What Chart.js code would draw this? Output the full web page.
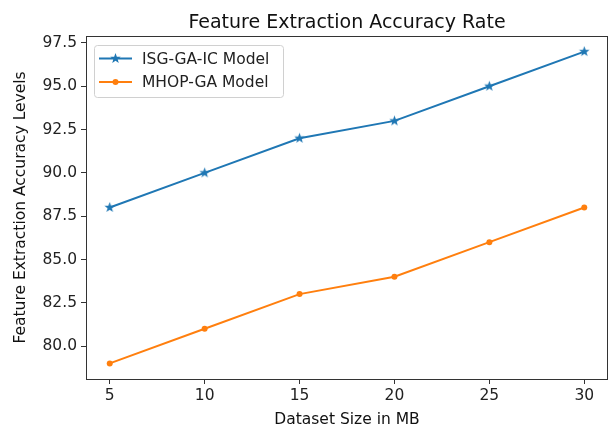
<!DOCTYPE html>
<html>
<head>
<meta charset="utf-8">
<script src="https://cdn.jsdelivr.net/npm/chart.js@4.4.1/dist/chart.umd.min.js"></script>
<style>
  html, body { margin: 0; padding: 0; background: #fff; }
  #wrap { width: 614px; height: 429px; position: relative; }
</style>
</head>
<body>
<div id="wrap"><canvas id="chart" width="614" height="429"></canvas></div>
<script>
const sizes = [5, 10, 15, 20, 25, 30];
const isgValues = [88, 90, 92, 93, 95, 97];
const mhopValues = [79, 81, 83, 84, 86, 88];
const xTicks = [5, 10, 15, 20, 25, 30];
const yTicks = [80, 82.5, 85, 87.5, 90, 92.5, 95, 97.5];
const seriesNames = ["ISG-GA-IC Model", "MHOP-GA Model"];

const blue = "#1f77b4";
const orange = "#ff7f0e";
const font = "DejaVu Sans";
const labelSize = 15.5;

// filled five point star like the matplotlib '*' marker
function starMarker(color, r) {
    const c = document.createElement("canvas");
    const s = Math.ceil(r * 2 + 2);
    c.width = s;
    c.height = s;
    const g = c.getContext("2d");
    g.translate(s / 2, s / 2);
    g.beginPath();
    for (let i = 0; i < 10; i++) {
        const rad = i % 2 === 0 ? r : r * 0.42;
        const a = -Math.PI / 2 + i * Math.PI / 5;
        g.lineTo(rad * Math.cos(a), rad * Math.sin(a));
    }
    g.closePath();
    g.fillStyle = color;
    g.fill();
    return c;
}
const star = starMarker(blue, 5.5);

const toPoints = (xs, ys) => xs.map((x, i) => ({ x: x, y: ys[i] }));

const frameAndLegend = {
    id: "frameAndLegend",
    afterDraw(chart) {
        const ctx = chart.ctx;
        const a = chart.chartArea;
        ctx.save();
        // axes box
        ctx.strokeStyle = "#333";
        ctx.lineWidth = 1;
        ctx.strokeRect(Math.round(a.left) + 0.5, Math.round(a.top) + 0.5,
            Math.round(a.right - a.left) - 1, Math.round(a.bottom - a.top));

        // title
        ctx.fillStyle = "#111";
        ctx.font = "19px '" + font + "'";
        ctx.textAlign = "center";
        ctx.textBaseline = "alphabetic";
        ctx.fillText("Feature Extraction Accuracy Rate", (a.left + a.right) / 2, 28);

        // legend, upper left inside the axes
        const bx = a.left + 8, by = a.top + 9, bw = 189, bh = 52;
        ctx.beginPath();
        ctx.roundRect(bx + 0.5, by + 0.5, bw, bh, 3);
        ctx.fillStyle = "rgba(255,255,255,0.8)";
        ctx.fill();
        ctx.strokeStyle = "#d0d0d0";
        ctx.stroke();
        const rows = [
            { name: seriesNames[0], color: blue, marker: "star" },
            { name: seriesNames[1], color: orange, marker: "dot" }
        ];
        rows.forEach((r, i) => {
            const y = by + 13.5 + i * 23.5;
            ctx.strokeStyle = r.color;
            ctx.lineWidth = 2;
            ctx.beginPath();
            ctx.moveTo(bx + 5, y);
            ctx.lineTo(bx + 38, y);
            ctx.stroke();
            if (r.marker === "star") {
                ctx.drawImage(star, bx + 21.5 - star.width / 2, y - star.height / 2);
            } else {
                ctx.fillStyle = r.color;
                ctx.beginPath();
                ctx.arc(bx + 21.5, y, 3, 0, Math.PI * 2);
                ctx.fill();
            }
            ctx.fillStyle = "#222";
            ctx.font = labelSize + "px '" + font + "'";
            ctx.textAlign = "left";
            ctx.textBaseline = "middle";
            ctx.fillText(r.name, bx + 48, y + 1);
        });
        ctx.restore();
    }
};

new Chart(document.getElementById("chart"), {
    type: "line",
    data: {
        datasets: [
            {
                label: seriesNames[0],
                data: toPoints(sizes, isgValues),
                borderColor: blue,
                backgroundColor: blue,
                borderWidth: 2,
                pointStyle: star,
                tension: 0
            },
            {
                label: seriesNames[1],
                data: toPoints(sizes, mhopValues),
                borderColor: orange,
                backgroundColor: orange,
                borderWidth: 2,
                pointStyle: "circle",
                pointRadius: 3,
                pointBorderWidth: 0,
                tension: 0
            }
        ]
    },
    options: {
        responsive: false,
        animation: false,
        layout: { padding: { top: 36, right: 4, left: 0, bottom: 0 } },
        plugins: {
            legend: { display: false },
            tooltip: { enabled: false }
        },
        scales: {
            x: {
                type: "linear",
                min: 3.75,
                max: 31.25,
                afterBuildTicks: s => { s.ticks = xTicks.map(v => ({ value: v })); },
                afterFit: s => { s.height = 50; },
                border: { display: false },
                grid: { drawOnChartArea: false, drawTicks: true, tickLength: 5, color: "#333" },
                ticks: { color: "#222", font: { family: font, size: labelSize }, padding: 3, maxRotation: 0 },
                title: {
                    display: true,
                    text: "Dataset Size in MB",
                    color: "#111",
                    font: { family: font, size: labelSize },
                    padding: { top: 0, bottom: 0 }
                }
            },
            y: {
                min: 78.1,
                max: 97.9,
                afterBuildTicks: s => { s.ticks = yTicks.map(v => ({ value: v })); },
                afterFit: s => { s.width = 86; },
                border: { display: false },
                grid: { drawOnChartArea: false, drawTicks: true, tickLength: 5, color: "#333" },
                ticks: {
                    color: "#222",
                    font: { family: font, size: labelSize },
                    padding: 4,
                    callback: v => v.toFixed(1)
                },
                title: {
                    display: true,
                    text: "Feature Extraction Accuracy Levels",
                    color: "#111",
                    font: { family: font, size: labelSize },
                    padding: { top: 12, bottom: 0 }
                }
            }
        }
    },
    plugins: [frameAndLegend]
});
</script>
</body>
</html>
